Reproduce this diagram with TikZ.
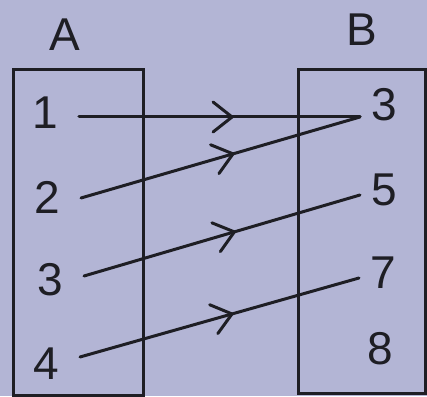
\documentclass[tikz,border=0pt]{standalone}
\usepackage{fontspec}
\setmainfont{Liberation Sans}
\usetikzlibrary{arrows.meta,decorations.markings}
\definecolor{paper}{RGB}{179,181,213}
\definecolor{ink}{RGB}{30,30,36}
\newcommand{\elemfont}{\fontsize{46}{46}\selectfont}
\tikzset{
  setbox/.style={draw=ink,line width=3pt},
  elem/.style={font=\elemfont,text=ink,inner sep=0pt},
  maparrow/.style={draw=ink,line width=3pt,line cap=round,postaction={decorate},
    decoration={markings,mark=at position 0.55 with {\arrow[line width=3pt]{Straight Barb[length=19pt,width=30pt,line cap=round,line join=round]}}}}
}
\begin{document}
\begin{tikzpicture}[x=1pt,y=1pt]
  \fill[paper] (0,0) rectangle (427,396);
  \useasboundingbox (0,0) rectangle (427,396);
  % --- the two sets ---
  \draw[setbox] (13,326) rectangle (143,1);
  \draw[setbox] (298,326) rectangle (425,3);
  \node[elem] (setA) at (65,361) {A};
  \node[elem] (setB) at (362,366) {B};
  % --- elements of A ---
  \foreach \n/\x/\y in {1/45/283,2/47/199,3/50/116,4/46/32}
    \node[elem,inner xsep=21pt] (a\n) at (\x,\y) {\n};
  % --- elements of B ---
  \foreach \n/\x/\y in {3/384/291,5/384/206,7/383/123,8/380/47}
    \node[elem,inner xsep=11pt] (b\n) at (\x,\y) {\n};
  % --- mapping ---
  \draw[maparrow] ([yshift=-4pt]a1.east) -- ([yshift=-12pt]b3.west);
  \draw[maparrow] ([yshift=-1pt]a2.east) -- ([yshift=-12pt]b3.west);
  \draw[maparrow] ([yshift=4pt]a3.east) -- ([yshift=-5pt]b5.west);
  \draw[maparrow] ([yshift=7pt]a4.east) -- ([yshift=-5pt]b7.west);
\end{tikzpicture}
\end{document}
